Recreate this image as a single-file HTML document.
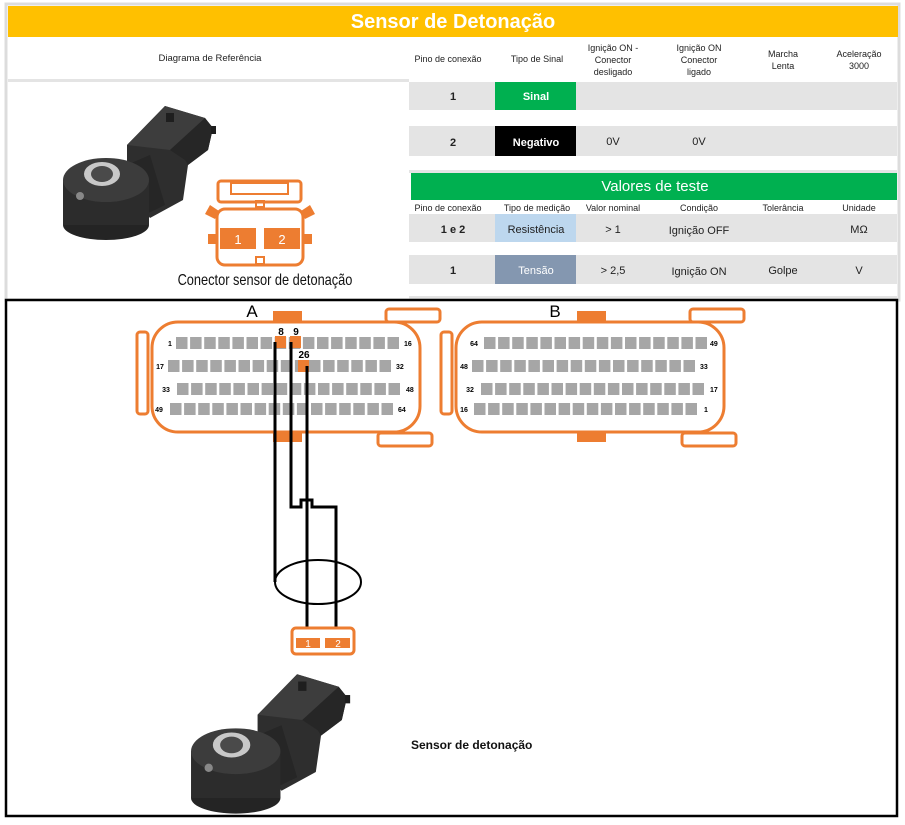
<!DOCTYPE html>
<html><head><meta charset="utf-8"><style>
html,body{margin:0;padding:0;background:#fff;width:905px;height:825px;overflow:hidden}
svg{display:block;font-family:"Liberation Sans",sans-serif}
</style></head><body>
<svg id="s" width="905" height="825" viewBox="0 0 905 825" xmlns="http://www.w3.org/2000/svg">
<defs>
<g id="sensor">
  <polygon points="127,145 165,106 205,118 213,128 208,150 188,165 183,200 150,218 127,190" fill="#2e2e2e"/>
  <polygon points="127,145 165,106 205,118 170,150" fill="#3d3d3d"/>
  <polygon points="170,150 205,118 213,128 208,150 188,165 185,160" fill="#262626"/>
  <rect x="166" y="113" width="8" height="9" fill="#1e1e1e"/>
  <rect x="211" y="126" width="5" height="8" fill="#1e1e1e"/>
  <polygon points="115,170 150,155 165,205 130,222" fill="#262626"/>
  <ellipse cx="106" cy="225" rx="43" ry="15" fill="#242424"/>
  <rect x="63" y="180" width="86" height="45" fill="#2c2c2c"/>
  <ellipse cx="106" cy="180" rx="43" ry="22" fill="#3c3c3c"/>
  <ellipse cx="102" cy="174" rx="18" ry="12" fill="#c8c8c8"/>
  <ellipse cx="102" cy="174" rx="11" ry="8" fill="#4a4a4a"/>
  <circle cx="80" cy="196" r="4" fill="#888"/>
</g>
</defs>
<rect x="6" y="4" width="893" height="296" fill="#fff" stroke="#dcdcdc" stroke-width="3"/>
<rect x="8" y="6" width="890" height="31" fill="#ffc000"/>
<text x="453" y="28" text-anchor="middle" font-size="20" font-weight="bold" fill="#fff">Sensor de Detonação</text>
<text x="210" y="61" text-anchor="middle" font-size="9.5" fill="#222">Diagrama de Referência</text>
<rect x="8" y="79" width="401" height="3" fill="#e4e4e4"/>
<g font-size="9" fill="#222" text-anchor="middle">
<text x="448" y="62">Pino de conexão</text>
<text x="537" y="62">Tipo de Sinal</text>
<text x="613" y="51">Ignição ON -</text><text x="613" y="63">Conector</text><text x="613" y="75">desligado</text>
<text x="699" y="51">Ignição ON</text><text x="699" y="63">Conector</text><text x="699" y="75">ligado</text>
<text x="783" y="57">Marcha</text><text x="783" y="69">Lenta</text>
<text x="859" y="57">Aceleração</text><text x="859" y="69">3000</text>
</g>
<rect x="409" y="82" width="488" height="28" fill="#e4e4e4"/>
<rect x="495" y="82" width="81" height="28" fill="#00b050"/>
<rect x="409" y="126" width="488" height="30" fill="#e4e4e4"/>
<rect x="495" y="126" width="81" height="30" fill="#000"/>
<g font-size="11" text-anchor="middle" font-weight="bold">
<text x="453" y="100" fill="#222">1</text>
<text x="536" y="100" fill="#fff">Sinal</text>
<text x="453" y="146" fill="#222">2</text>
<text x="536" y="146" fill="#fff">Negativo</text>
</g>
<g font-size="11" text-anchor="middle" fill="#222">
<text x="613" y="145">0V</text><text x="699" y="145">0V</text>
</g>
<rect x="409" y="170" width="488" height="3" fill="#e4e4e4"/>
<rect x="411" y="173" width="486" height="27" fill="#00b050"/>
<text x="655" y="191" text-anchor="middle" font-size="15" fill="#fff">Valores de teste</text>
<g font-size="9" fill="#222" text-anchor="middle">
<text x="448" y="211">Pino de conexão</text>
<text x="537" y="211">Tipo de medição</text>
<text x="613" y="211">Valor nominal</text>
<text x="699" y="211">Condição</text>
<text x="783" y="211">Tolerância</text>
<text x="859" y="211">Unidade</text>
</g>
<rect x="409" y="214" width="488" height="28" fill="#e4e4e4"/>
<rect x="495" y="214" width="81" height="28" fill="#bdd7ee"/>
<rect x="409" y="255" width="488" height="29" fill="#e4e4e4"/>
<rect x="495" y="255" width="81" height="29" fill="#8497b0"/>
<rect x="409" y="296" width="488" height="3" fill="#e4e4e4"/>
<g font-size="11" text-anchor="middle" fill="#222">
<text x="453" y="233" font-weight="bold">1 e 2</text>
<text x="536" y="233">Resistência</text>
<text x="613" y="233">&gt; 1</text>
<text x="699" y="234">Ignição OFF</text>
<text x="859" y="233">MΩ</text>
<text x="453" y="274" font-weight="bold">1</text>
<text x="536" y="274" fill="#fff">Tensão</text>
<text x="613" y="274">&gt; 2,5</text>
<text x="699" y="275">Ignição ON</text>
<text x="783" y="274">Golpe</text>
<text x="859" y="274">V</text>
</g>
<use href="#sensor"/>
<g stroke="#ed7d31" fill="none" stroke-width="3">
<rect x="218" y="181" width="83" height="21" rx="3"/>
<rect x="231" y="183" width="57" height="11" stroke-width="2"/>
<rect x="256" y="201" width="8" height="6" stroke-width="2"/>
<rect x="217" y="209" width="86" height="56" rx="8"/>
<rect x="256" y="257" width="8" height="7" stroke-width="2"/>
</g>
<g fill="#ed7d31">
<polygon points="205,214 210,205 219,211 215,219"/>
<polygon points="301,211 310,205 315,214 305,219"/>
<rect x="208" y="234" width="9" height="10"/><rect x="303" y="234" width="9" height="10"/>
<rect x="220" y="228" width="36" height="21"/><rect x="264" y="228" width="36" height="21"/>
</g>
<g fill="#fff" font-size="13" text-anchor="middle"><text x="238" y="244">1</text><text x="282" y="244">2</text></g>
<text x="265" y="285" text-anchor="middle" font-size="16" fill="#111" transform="translate(265 0) scale(0.8 1) translate(-265 0)">Conector sensor de detonação</text>
<rect x="6" y="300" width="891" height="516" fill="#fff" stroke="#000" stroke-width="2.5"/>
<g id="conn"></g>
<text x="252" y="317" text-anchor="middle" font-size="17">A</text>
<text x="555" y="317" text-anchor="middle" font-size="17">B</text>
<g stroke="#000" stroke-width="3" fill="none">
<polyline points="275,342 275,582"/>
<polyline points="291,342 291,507 301,507 301,500 312,500 312,507 336,507 336,630"/>
<polyline points="307,366 307,630"/>
<ellipse cx="318" cy="582" rx="43" ry="22" stroke-width="2"/>
</g>
<rect x="292" y="628" width="62" height="26" rx="4" fill="#fff" stroke="#ed7d31" stroke-width="3"/>
<rect x="296" y="638" width="24" height="10" fill="#ed7d31"/><rect x="325" y="638" width="25" height="10" fill="#ed7d31"/>
<g fill="#fff" font-size="10" text-anchor="middle"><text x="308" y="647">1</text><text x="338" y="647">2</text></g>
<use href="#sensor" transform="translate(125.5 564) scale(1.04)"/>
<text x="411" y="749" font-size="12" font-weight="bold" fill="#111">Sensor de detonação</text>
</svg>
<script>
var g=document.getElementById('conn'),h='';
function R(x,y,w,hh,st){h+='<rect x="'+x+'" y="'+y+'" width="'+w+'" height="'+hh+'" '+st+'/>';}
function T(x,y,t,a){h+='<text x="'+x+'" y="'+y+'" font-size="7" font-weight="bold" text-anchor="'+(a||'middle')+'">'+t+'</text>';}
var O='fill="#ed7d31"',S='fill="#fff" stroke="#ed7d31" stroke-width="3"',P='fill="#a6a6a6"';
function connector(x0,rev){
 R(x0+16,322,268,110,'rx="26" '+S);
 R(x0+1,332,11,82,'rx="3" '+S);
 R(x0+137,311,29,11,O);R(x0+137,431,29,11,O);
 R(x0+250,309,54,13,'rx="3" '+S);R(x0+242,433,54,13,'rx="3" '+S);
 var rows=[[337,40,'1','16',34,266],[360,32,'17','32',24,258],[383,41,'33','48',30,268],[403,34,'49','64',23,260]];
 if(rev){rows=[[337,44,'64','49',34,268],[360,32,'48','33',24,258],[383,41,'32','17',30,268],[403,34,'16','1',24,262]];}
 rows.forEach(function(r){
  var xs=x0+r[1],step=14.1;
  for(var i=0;i<16;i++){R((xs+i*step).toFixed(1),r[0],11.5,12,P);}
  T(x0+r[4],r[0]+9,r[2]);T(x0+r[5]+2,r[0]+9,r[3],'start');
 });
}
connector(136,false);connector(440,true);
R(275,336,11,12,O);R(290,336,11,12,O);R(298,360,11,12,O);
h+='<text x="281" y="335" font-size="10" font-weight="bold" text-anchor="middle">8</text>';
h+='<text x="296" y="335" font-size="10" font-weight="bold" text-anchor="middle">9</text>';
h+='<text x="304" y="358" font-size="10" font-weight="bold" text-anchor="middle">26</text>';
g.innerHTML=h;
</script>
</body></html>
